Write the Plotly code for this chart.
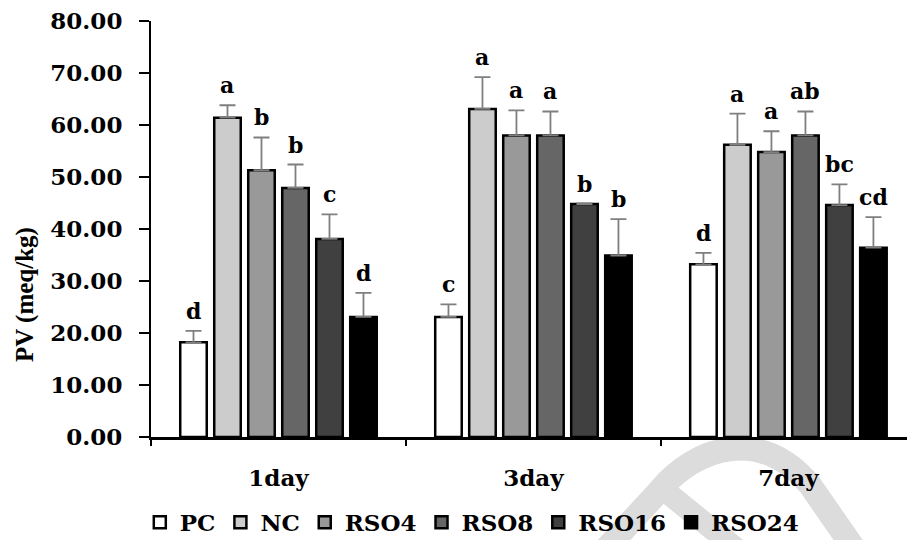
import plotly.graph_objects as go

categories = ["1day", "3day", "7day"]
series_names = ["PC", "NC", "RSO4", "RSO8", "RSO16", "RSO24"]
series_colors = ["#ffffff", "#cccccc", "#999999", "#666666", "#404040", "#000000"]

pc = [18.2, 23.1, 33.2]
nc = [61.4, 63.1, 56.2]
rso4 = [51.3, 58.0, 54.8]
rso8 = [47.9, 58.0, 58.0]
rso16 = [38.1, 44.8, 44.6]
rso24 = [23.1, 34.9, 36.4]

pc_err = [2.2, 2.4, 2.2]
nc_err = [2.4, 6.1, 6.0]
rso4_err = [6.3, 4.8, 4.0]
rso8_err = [4.5, 4.6, 4.6]
rso16_err = [4.7, 0.1, 4.0]
rso24_err = [4.6, 7.0, 5.9]

pc_lab = ["d", "c", "d"]
nc_lab = ["a", "a", "a"]
rso4_lab = ["b", "a", "a"]
rso8_lab = ["b", "a", "ab"]
rso16_lab = ["c", "b", "bc"]
rso24_lab = ["d", "b", "cd"]

values = [pc, nc, rso4, rso8, rso16, rso24]
errors = [pc_err, nc_err, rso4_err, rso8_err, rso16_err, rso24_err]
labels = [pc_lab, nc_lab, rso4_lab, rso8_lab, rso16_lab, rso24_lab]

FONT = "DejaVu Serif"
BARGAP = 0.2
W, H = 907, 540
ML, MR, MT, MB = 151, 0, 21, 103

fig = go.Figure()
for name, col, v, e in zip(series_names, series_colors, values, errors):
    fig.add_trace(go.Bar(
        x=categories, y=v, name=name,
        marker=dict(color=col, line=dict(color="#000000", width=2.5)),
        error_y=dict(type="data", array=e, arrayminus=[0] * len(e), symmetric=False,
                     color="#7f7f7f", thickness=1.8, width=8),
    ))

# significance letters above error bars
n = len(series_names)
slot = (1 - BARGAP) / n
annotations = []
for j, (v, e, lab) in enumerate(zip(values, errors, labels)):
    for i in range(len(categories)):
        annotations.append(dict(
            x=i - (1 - BARGAP) / 2 + (j + 0.5) * slot, y=v[i] + e[i],
            xref="x", yref="y", text=lab[i], showarrow=False,
            yanchor="bottom", yshift=5,
            font=dict(family=FONT, size=22, color="#000000", weight="bold"),
        ))

annotations.append(dict(
    x=(25 - ML) / (W - ML - MR), y=(H - MB - 295) / (H - MT - MB),
    xref="paper", yref="paper", text="PV (meq/kg)", textangle=-90, showarrow=False,
    xanchor="center", yanchor="middle",
    font=dict(family="Liberation Serif", size=25, color="#000000", weight="bold"),
))

# watermark (light grey arc) in pixel space converted to paper coords
pw, ph = W - ML - MR, H - MT - MB
def px(x, y):
    return f"{(x - ML) / pw:.4f},{(H - MB - y) / ph:.4f}"

arc = (f"M {px(605, 550)} L {px(660, 490)} C {px(695, 448)} {px(760, 425)} {px(810, 485)} "
       f"L {px(855, 550)}")
leg = f"M {px(664, 490)} L {px(738, 550)}"
shapes = [
    dict(type="path", path=arc, xref="paper", yref="paper", layer="below",
         line=dict(color="#dcdcdc", width=24)),
    dict(type="path", path=leg, xref="paper", yref="paper", layer="below",
         line=dict(color="#dcdcdc", width=22)),
]

fig.update_layout(
    width=W, height=H,
    margin=dict(l=ML, r=MR, t=MT, b=MB, autoexpand=False),
    paper_bgcolor="white", plot_bgcolor="rgba(0,0,0,0)",
    barmode="group", bargap=BARGAP, bargroupgap=0.22,
    font=dict(family=FONT, color="#000000"),
    showlegend=True,
    legend=dict(orientation="h", x=0.425, xanchor="center", y=-0.205, yanchor="middle",
                font=dict(family=FONT, size=23, color="#000000", weight="bold"),
                itemwidth=30, traceorder="normal", bgcolor="rgba(0,0,0,0)"),
    annotations=annotations,
    shapes=shapes,
    xaxis=dict(
        range=[-0.5, 2.465], showline=True, linecolor="#000000", linewidth=3,
        ticks="outside", tickson="boundaries", ticklen=6, tickwidth=2, tickcolor="#000000",
        tickfont=dict(family=FONT, size=23, color="#000000", weight="bold"),
        ticklabelstandoff=18, showgrid=False, zeroline=False, automargin=False,
    ),
    yaxis=dict(
        range=[0, 80], dtick=10, tickformat=".2f", showline=True, linecolor="#000000",
        linewidth=2, ticks="outside", ticklen=10, tickwidth=2, tickcolor="#000000",
        tickfont=dict(family=FONT, size=23, color="#000000", weight="bold"),
        ticklabelstandoff=12, showgrid=False, zeroline=False, automargin=False,
    ),
)

fig.write_html("out.html")
